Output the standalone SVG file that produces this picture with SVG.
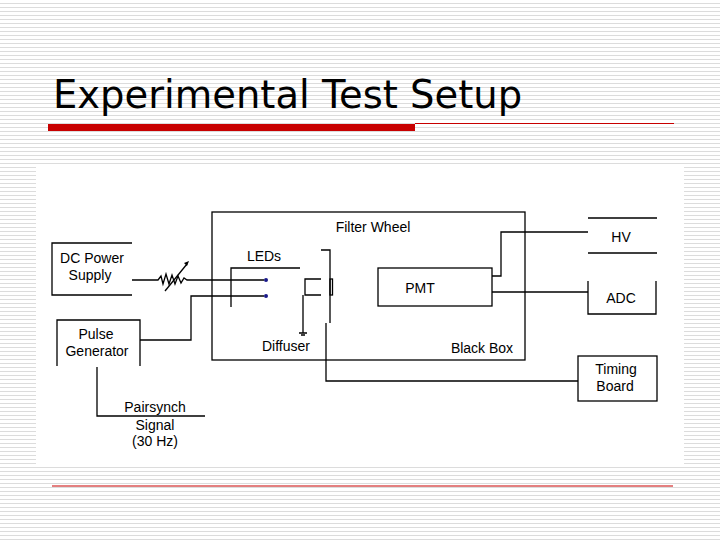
<svg xmlns="http://www.w3.org/2000/svg" width="720" height="540" viewBox="0 0 720 540">
<defs>
<pattern id="stripes" width="8" height="4" patternUnits="userSpaceOnUse"><rect width="8" height="4" fill="#fff"/><rect y="3" width="8" height="1" fill="#dcdcdc"/></pattern>
</defs>
<style>
.l{fill:none;stroke:#000;stroke-width:1.3}
.t{font-family:"Liberation Sans",Arial,sans-serif;font-size:14px;fill:#000;text-anchor:middle}
</style>
<rect width="720" height="540" fill="url(#stripes)"/>
<rect x="36" y="167" width="648" height="300" fill="#fff"/>
<text x="53" y="108" font-family="DejaVu Sans,sans-serif" font-size="38.5" fill="#000">Experimental Test Setup</text>
<rect x="48" y="124" width="367" height="7" fill="#c80000"/>
<line x1="415" y1="123.5" x2="674" y2="123.5" stroke="#c80000" stroke-width="1"/>
<line x1="52" y1="486" x2="673" y2="486" stroke="#c80000" stroke-width="1"/>
<g id="blackbox"><rect class="l" x="212" y="212" width="313" height="148"/><text class="t" x="373" y="232">Filter Wheel</text><text class="t" x="482" y="353">Black Box</text></g>
<g id="dc"><path class="l" d="M132 243H52V295H132"/><text class="t" x="92" y="263">DC Power</text><text class="t" x="90" y="280">Supply</text></g>
<g id="pulse"><path class="l" d="M57 366V320H140V366"/><text class="t" x="96" y="339">Pulse</text><text class="t" x="97" y="356">Generator</text></g>
<g id="leds"><text class="t" x="264" y="261">LEDs</text><path class="l" d="M300 268H231V307"/><circle cx="266" cy="280" r="2" fill="#1a1a8a"/><circle cx="266" cy="296" r="2" fill="#1a1a8a"/></g>
<g id="diffuser"><path class="l" d="M321 279H305V295H321M303 295V333"/><path class="l" d="M299 333H307M301 335H305" stroke-width="1"/><text class="t" x="286" y="351">Diffuser</text></g>
<g id="filterwheel"><path class="l" d="M321 250H330V323"/><rect class="l" x="330" y="279" width="2.5" height="16"/></g>
<g id="pmt"><rect class="l" x="378" y="268" width="114" height="38"/><text class="t" x="420" y="293">PMT</text></g>
<g id="hv"><path class="l" d="M588 218H657M588 253H657"/><text class="t" x="621" y="242">HV</text></g>
<g id="adc"><path class="l" d="M588 281V314H656V281"/><text class="t" x="621" y="303">ADC</text></g>
<g id="timing"><rect class="l" x="578" y="356" width="79" height="45"/><text class="t" x="616" y="374">Timing</text><text class="t" x="615" y="391">Board</text></g>
<g id="pairsynch"><text class="t" x="155" y="412">Pairsynch</text><text class="t" x="155" y="430">Signal</text><text class="t" x="155" y="446">(30 Hz)</text></g>
<g id="connectors">
<path class="l" d="M132 280H158l3 -4 2 8 3 -10 3 10 3 -9 3 9 3 -8 3 7 3 -5 3 2H264"/>
<path class="l" d="M165 291L187 264" stroke-width="1"/><path d="M189 261l-5 2 3 3z" fill="#000"/>
<path class="l" d="M140 340H191V296H264"/>
<path class="l" d="M97 367V416H205"/>
<path class="l" d="M492 276H501V232H588"/>
<path class="l" d="M492 292H588"/>
<path class="l" d="M326 323V381H578"/>
</g>
</svg>
